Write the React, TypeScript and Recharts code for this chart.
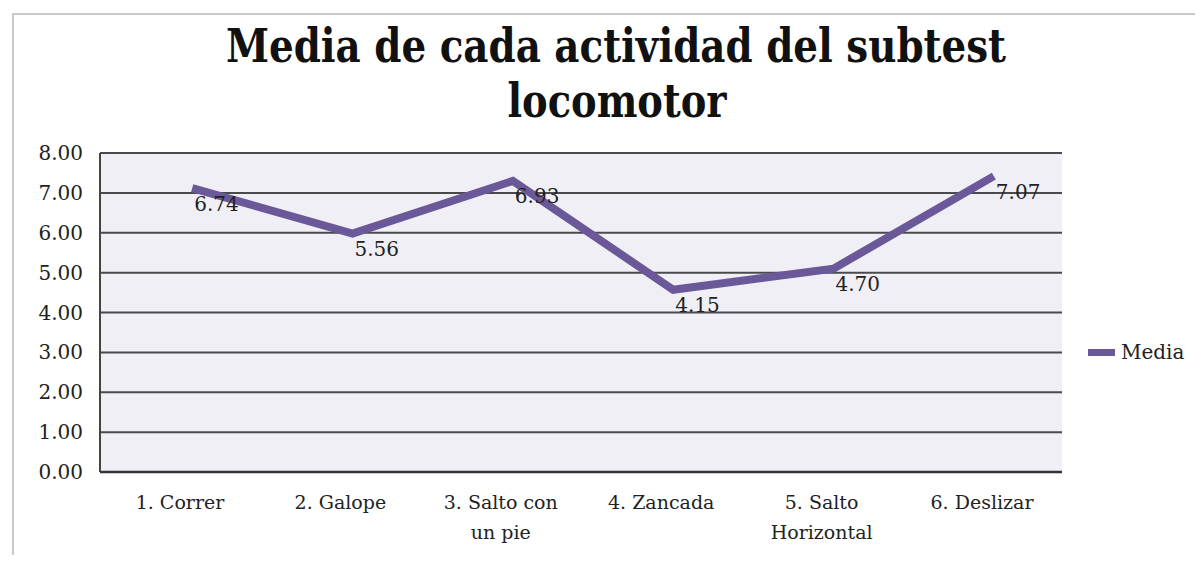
import { LineChart, Line, XAxis, YAxis, CartesianGrid } from "recharts";

const categories = [
  "1. Correr",
  "2. Galope",
  "3. Salto con un pie",
  "4. Zancada",
  "5. Salto Horizontal",
  "6. Deslizar",
];
// height of the drawn line, as it sits on the picture
const mediaLine = [7.12, 5.98, 7.3, 4.57, 5.1, 7.42];
// data label texts printed next to each point
const mediaLabels = ["6.74", "5.56", "6.93", "4.15", "4.70", "7.07"];
const yTicks = [0, 1, 2, 3, 4, 5, 6, 7, 8];

const data = categories.map((name, i) => ({
  name,
  pos: i,
  media: mediaLine[i],
  label: mediaLabels[i],
}));

const serif = "'DejaVu Serif', 'Liberation Serif', serif";
const purple = "#6a5898";

function wrap(text: string, max: number) {
  const words = text.split(" ");
  const lines: string[] = [];
  let cur = "";
  for (const w of words) {
    const next = cur ? cur + " " + w : w;
    if (next.length > max && cur) {
      lines.push(cur);
      cur = w;
    } else cur = next;
  }
  if (cur) lines.push(cur);
  return lines;
}

function CategoryTick(props: any) {
  const { x, y, payload } = props;
  const lines = wrap(payload.value, 12);
  return (
    <text x={x} y={y + 37} textAnchor="middle" fontFamily={serif} fontSize={19} fill="#222">
      {lines.map((l, i) => (
        <tspan key={i} x={x} dy={i === 0 ? 0 : 30}>
          {l}
        </tspan>
      ))}
    </text>
  );
}

function PointLabel(props: any) {
  const { x, y, index } = props;
  return (
    <text x={x + 2} y={y + 17} dominantBaseline="middle" fontFamily={serif} fontSize={20} fill="#222">
      {mediaLabels[index]}
    </text>
  );
}

export default function App() {
  return (
    <div
      style={{
        position: "relative",
        width: 1203,
        height: 563,
        margin: -8,
        background: "#fff",
        overflow: "hidden",
      }}
    >
      <div
        style={{
          position: "absolute",
          left: 12,
          top: 13,
          width: 1300,
          height: 700,
          borderTop: "2px solid #c8c8c8",
          borderLeft: "2px solid #c8c8c8",
          boxSizing: "border-box",
        }}
      />
      <svg width={1203} height={140} style={{ position: "absolute", left: 0, top: 0 }}>
        <text
          x={616}
          y={62}
          textAnchor="middle"
          fontFamily={serif}
          fontWeight="bold"
          fontSize={46}
          textLength={780}
          lengthAdjust="spacingAndGlyphs"
          fill="#111"
        >
          Media de cada actividad del subtest
        </text>
        <text
          x={617}
          y={117}
          textAnchor="middle"
          fontFamily={serif}
          fontWeight="bold"
          fontSize={46}
          textLength={219}
          lengthAdjust="spacingAndGlyphs"
          fill="#111"
        >
          locomotor
        </text>
      </svg>
      <div style={{ position: "absolute", left: 0, top: 0 }}>
        <LineChart width={1203} height={563} data={data} margin={{ top: 153, right: 141, bottom: 61, left: 0 }}>
          <CartesianGrid vertical={false} stroke="#4a4a4a" strokeWidth={2} fill="#f1eff6" />
          <XAxis
            dataKey="name"
            xAxisId="cat"
            height={30}
            padding={{ left: 80, right: 80 }}
            tick={<CategoryTick />}
            tickLine={false}
            tickSize={0}
            tickMargin={0}
            interval={0}
            axisLine={{ stroke: "#333", strokeWidth: 2.5 }}
          />
          <XAxis dataKey="pos" xAxisId="pos" type="number" domain={[-0.575, 5.425]} hide />
          <YAxis
            width={100}
            domain={[0, 8]}
            ticks={yTicks}
            tickFormatter={(v: number) => v.toFixed(2)}
            tick={{ fontFamily: serif, fontSize: 20, fill: "#222" }}
            tickLine={false}
            tickSize={0}
            tickMargin={17}
            axisLine={{ stroke: "#444", strokeWidth: 2 }}
          />
          <Line
            xAxisId="pos"
            dataKey="media"
            name="Media"
            stroke={purple}
            strokeWidth={8}
            dot={false}
            activeDot={false}
            label={<PointLabel />}
            isAnimationActive={false}
          />
        </LineChart>
      </div>
      <div
        style={{
          position: "absolute",
          left: 1088,
          top: 340,
          display: "flex",
          alignItems: "center",
          fontFamily: serif,
          fontSize: 20,
          color: "#222",
        }}
      >
        <span style={{ display: "inline-block", width: 27, height: 7, background: purple, marginRight: 6 }} />
        <span>Media</span>
      </div>
    </div>
  );
}
